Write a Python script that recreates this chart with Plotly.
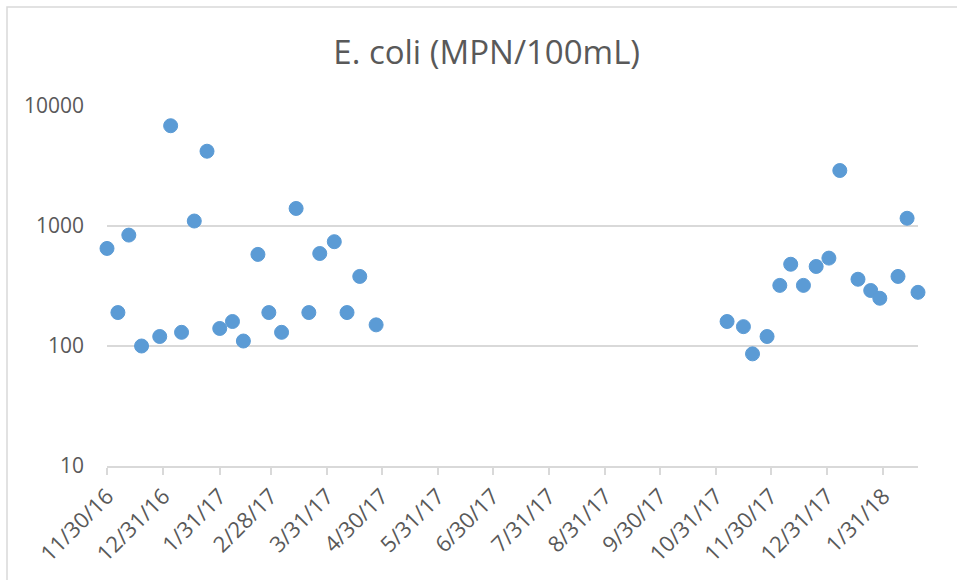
import plotly.graph_objects as go
import pandas as pd

# Sample dates and E. coli values (MPN/100mL)
dates_2016_17 = ["2016-11-30", "2016-12-06", "2016-12-12", "2016-12-19", "2016-12-29",
                 "2017-01-04", "2017-01-10", "2017-01-17", "2017-01-24", "2017-01-31",
                 "2017-02-07", "2017-02-13", "2017-02-21", "2017-02-27", "2017-03-06",
                 "2017-03-14", "2017-03-21", "2017-03-27", "2017-04-04", "2017-04-11",
                 "2017-04-18", "2017-04-27"]
values_2016_17 = [650, 190, 840, 100, 120,
                  6850, 130, 1100, 4200, 140,
                  160, 110, 580, 190, 130,
                  1400, 190, 590, 740, 190,
                  380, 150]

dates_2017_18 = ["2017-11-06", "2017-11-15", "2017-11-20", "2017-11-28", "2017-12-05",
                 "2017-12-11", "2017-12-18", "2017-12-25", "2018-01-01", "2018-01-07",
                 "2018-01-17", "2018-01-24", "2018-01-29", "2018-02-08", "2018-02-13",
                 "2018-02-19"]
values_2017_18 = [160, 145, 86, 120, 320,
                  480, 320, 460, 540, 2900,
                  360, 290, 250, 380, 1160,
                  280]

x_tick_labels = ["11/30/16", "12/31/16", "1/31/17", "2/28/17", "3/31/17", "4/30/17",
                 "5/31/17", "6/30/17", "7/31/17", "8/31/17", "9/30/17", "10/31/17",
                 "11/30/17", "12/31/17", "1/31/18"]
y_tick_values = [10, 100, 1000, 10000]
x_range = ["2016-11-30", "2018-02-19"]

title_text = "E. coli (MPN/100mL)"

FONT = "Open Sans"
TEXT_COLOR = "#595959"
GRID = "#d9d9d9"
MARKER = "#5b9bd5"

x_all = pd.to_datetime(dates_2016_17 + dates_2017_18)
y_all = values_2016_17 + values_2017_18
tick_dates = pd.to_datetime(x_tick_labels, format="%m/%d/%y")

fig = go.Figure()
fig.add_trace(go.Scatter(
    x=x_all, y=y_all, mode="markers",
    marker=dict(size=14, color=MARKER, line=dict(width=1, color=MARKER)),
    cliponaxis=False, showlegend=False,
))

W, H = 957, 580
ml, mr, mt, mb = 107, 39, 106, 114
pw = W - ml - mr
ph = H - mt - mb

fig.update_layout(
    width=W, height=H,
    margin=dict(l=ml, r=mr, t=mt, b=mb),
    paper_bgcolor="white", plot_bgcolor="white",
    font=dict(family=FONT, color=TEXT_COLOR),
    title=dict(text=title_text, x=486.7 / W, xref="container", xanchor="center",
               y=1 - 52 / H, yref="container", yanchor="middle",
               font=dict(family=FONT, size=33, color=TEXT_COLOR)),
    xaxis=dict(
        type="date", range=x_range,
        tickvals=tick_dates, ticktext=x_tick_labels, tickangle=-45,
        showgrid=False, showline=True, linecolor=GRID, linewidth=1.5,
        ticks="outside", ticklen=7, tickcolor=GRID, tickwidth=1.5,
        tickfont=dict(family=FONT, size=22, color=TEXT_COLOR),
        zeroline=False,
    ),
    yaxis=dict(
        type="log", range=[1, 4],
        tickvals=y_tick_values, ticktext=[str(v) for v in y_tick_values],
        showgrid=True, gridcolor=GRID, gridwidth=1.5,
        showline=False, zeroline=False, ticks="",
        ticklabelstandoff=22,
        tickfont=dict(family=FONT, size=21, color=TEXT_COLOR),
    ),
    shapes=[dict(
        type="rect", xref="paper", yref="paper",
        x0=(7 - ml) / pw, x1=(W + 10 - ml) / pw,
        y0=(H - mb - (H + 10)) / ph, y1=(H - mb - 7) / ph,
        line=dict(color=GRID, width=1.5), fillcolor="rgba(0,0,0,0)", layer="below",
    )],
)

fig.write_html("out.html", config={"displayModeBar": False},
               post_script="document.body.style.margin='0';document.body.style.overflow='hidden';")
